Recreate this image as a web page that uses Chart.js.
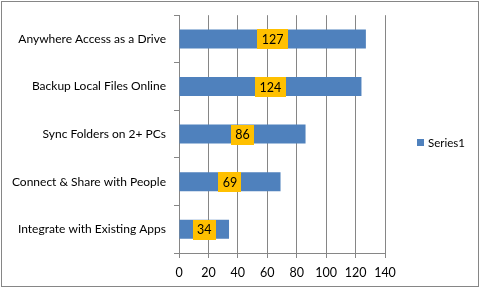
<!DOCTYPE html>
<html>
<head>
<meta charset="utf-8">
<script src="https://cdn.jsdelivr.net/npm/chart.js@4/dist/chart.umd.min.js"></script>
<style>
    html, body { margin: 0; padding: 0; background: #fff; }
</style>
</head>
<body>
<canvas id="algoChart" width="481" height="289"></canvas>
<script>
// data
const categories = [
    "Anywhere Access as a Drive",
    "Backup Local Files Online",
    "Sync Folders on 2+ PCs",
    "Connect & Share with People",
    "Integrate with Existing Apps"
];
const series1 = [127, 124, 86, 69, 34];
const seriesName = "Series1";
const xMin = 0, xMax = 140, xStep = 20;

const FONT = "Lato, 'Liberation Sans', sans-serif";
const BLUE = "#4F81BD";
const GRID = "#868686";

// boxes with value labels, chart border and legend
const extras = {
    id: 'extras',
    afterDatasetsDraw(chart) {
        const ctx = chart.ctx;
        const meta = chart.getDatasetMeta(0);
        ctx.save();
        ctx.font = "12.5px " + FONT;
        ctx.textAlign = "center";
        ctx.textBaseline = "middle";
        meta.data.forEach((bar, i) => {
            const p = bar.getProps(['x', 'y', 'base', 'height'], true);
            const cx = (p.x + p.base) / 2;
            const txt = String(series1[i]);
            const w = ctx.measureText(txt).width + 9;
            const h = p.height + 1;
            ctx.fillStyle = "#FFC000";
            ctx.fillRect(Math.round(cx - w / 2), Math.round(p.y - h / 2 + 0.5), Math.round(w), Math.round(h));
            ctx.fillStyle = "#000";
            ctx.fillText(txt, cx, p.y + 1);
        });
        ctx.restore();
    },
    afterDraw(chart) {
        const ctx = chart.ctx;
        ctx.save();
        // legend
        ctx.fillStyle = BLUE;
        ctx.fillRect(417, 139, 7, 7);
        ctx.fillStyle = "#000";
        ctx.font = "11.5px " + FONT;
        ctx.textBaseline = "middle";
        ctx.textAlign = "left";
        ctx.fillText(seriesName, 428, 143);
        // outer border
        ctx.strokeStyle = GRID;
        ctx.lineWidth = 1;
        ctx.strokeRect(1.5, 1.5, 477, 285);
        ctx.restore();
    }
};

new Chart(document.getElementById('algoChart'), {
    type: 'bar',
    data: {
        labels: categories,
        datasets: [{
            label: seriesName,
            data: series1,
            backgroundColor: BLUE,
            borderWidth: 0,
            categoryPercentage: 1,
            barPercentage: 0.4
        }]
    },
    options: {
        indexAxis: 'y',
        responsive: false,
        animation: false,
        devicePixelRatio: 1,
        layout: { padding: { left: 0, top: 14, right: 96, bottom: 0 } },
        plugins: {
            legend: { display: false },
            tooltip: { enabled: false }
        },
        scales: {
            x: {
                min: xMin,
                max: xMax,
                afterFit(scale) { scale.height = 36; },
                ticks: {
                    stepSize: xStep,
                    color: "#000",
                    padding: 7,
                    font: { family: FONT, size: 12.5 }
                },
                grid: { color: GRID, tickLength: 5, drawTicks: true },
                border: { color: GRID }
            },
            y: {
                afterFit(scale) { scale.width = 179; },
                ticks: {
                    color: "#000",
                    padding: 8,
                    font: { family: FONT, size: 12 }
                },
                grid: { offset: true, drawOnChartArea: false, color: GRID, tickLength: 5 },
                border: { color: GRID }
            }
        }
    },
    plugins: [extras]
});
</script>
</body>
</html>
